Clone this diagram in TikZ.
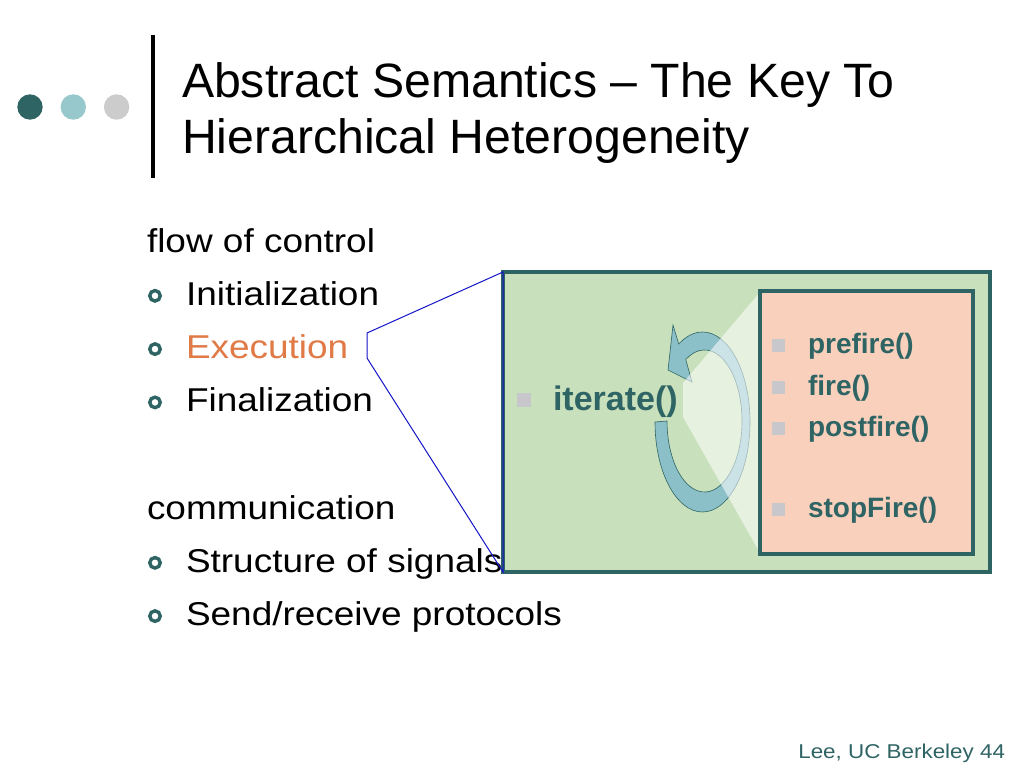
\documentclass[tikz,border=0pt]{standalone}
\usepackage{fontspec}
\setmainfont{Liberation Sans}
\newfontfamily\bodyfont[FakeStretch=1.12]{Liberation Sans}
\usetikzlibrary{positioning}

\definecolor{darkteal}{RGB}{47,100,100}
\definecolor{lightteal}{RGB}{150,200,204}
\definecolor{ringteal}{RGB}{140,192,200}
\definecolor{dotgray}{RGB}{204,204,204}
\definecolor{boxgreen}{RGB}{200,224,188}
\definecolor{salmon}{RGB}{248,208,188}
\definecolor{execorange}{RGB}{224,122,70}
\definecolor{sqgray}{RGB}{200,200,204}
\definecolor{calloutblue}{RGB}{20,20,200}

\begin{document}
\begin{tikzpicture}[x=1pt, y=-1pt,
    every node/.style={inner sep=0pt, outer sep=0pt},
    titletext/.style={anchor=base west, font=\fontsize{48.2}{56}\selectfont},
    bodytext/.style={anchor=base west, font=\bodyfont\fontsize{33}{40}\selectfont},
    ringdot/.style={circle, draw=darkteal, line width=3.4pt, minimum size=10.5pt},
    sqbullet/.style={rectangle, fill=sqgray, minimum size=13pt},
    methodtext/.style={anchor=base west, text=darkteal, font=\fontsize{28}{32}\selectfont\bfseries}]
    \fill[white] (0,0) rectangle (1024,768);
    \useasboundingbox (0,0) rectangle (1024,768);

    % 标题
    \foreach \c [count=\i] in {darkteal, lightteal, dotgray} {
        \node[circle, fill=\c, minimum size=25.4pt] (D\i) at (\i*43.3-13.3,107) {};
    }
    \draw[line width=4pt] (153,35) -- (153,178);
    \node[titletext] (T1) at (182,97) {Abstract Semantics \textendash\ The Key To};
    \node[titletext] (T2) at (182,153) {Hierarchical Heterogeneity};

    % 列表
    \node[bodytext] (flow) at (147,252) {flow of control};
    \foreach \t/\c [count=\i] in {Initialization/black, Execution/execorange, Finalization/black} {
        \node[ringdot] (P\i) at (155,252+\i*53.3-9.5) {};
        \node[bodytext, text=\c] (L\i) at (186,252+\i*53.3) {\t};
    }
    \node[bodytext] (comm) at (147,519) {communication};
    \foreach \t [count=\i from 4] in {Structure of signals, Send/receive protocols} {
        \node[ringdot] (P\i) at (155,519+\i*53.3-159.9-9.5) {};
        \node[bodytext] (L\i) at (186,519+\i*53.3-159.9) {\t};
    }

    % 外框
    \node[draw=darkteal, line width=4pt, fill=boxgreen, minimum width=487pt,
        minimum height=300pt, anchor=north west] (outer) at (503,272) {};

    % 循环箭头
    \filldraw[draw=darkteal, line width=0.6pt, fill=ringteal]
        (655,422) arc[start angle=180, end angle=-120, x radius=47.5, y radius=90]
        -- (673,325) -- (668,370) -- (692,382) -- (685.75,359.5)
        arc[start angle=-120, end angle=180, x radius=37.5, y radius=71] -- cycle;
    \fill[white, fill opacity=0.55] (760,292) -- (683,383) -- (683,417) -- (760,553) -- cycle;

    \node[sqbullet, minimum size=14pt] (S0) at (524,400) {};
    \node[anchor=base west, text=darkteal, font=\fontsize{34}{40}\selectfont\bfseries]
        (iter) at (553,410) {iterate()};

    % 内框
    \node[draw=darkteal, line width=3.5pt, fill=salmon, minimum width=213pt,
        minimum height=263pt, anchor=north west] (inner) at (760,291) {};
    \foreach \t/\y [count=\i] in {prefire()/353, fire()/395, postfire()/436, stopFire()/517} {
        \node[sqbullet] (S\i) at (778,\y-8) {};
        \node[methodtext] (M\i) at (808,\y) {\t};
    }

    % 放大线
    \coordinate (bendA) at (367,333);
    \coordinate (bendB) at (367,358);
    \draw[calloutblue, line width=1pt] (outer.north west) -- (bendA) -- (bendB)
        -- (outer.south west) -- cycle;

    \node[anchor=base east, text=darkteal, font=\bodyfont\fontsize{20}{24}\selectfont]
        (credit) at (1005,758) {Lee, UC Berkeley 44};
\end{tikzpicture}
\end{document}
